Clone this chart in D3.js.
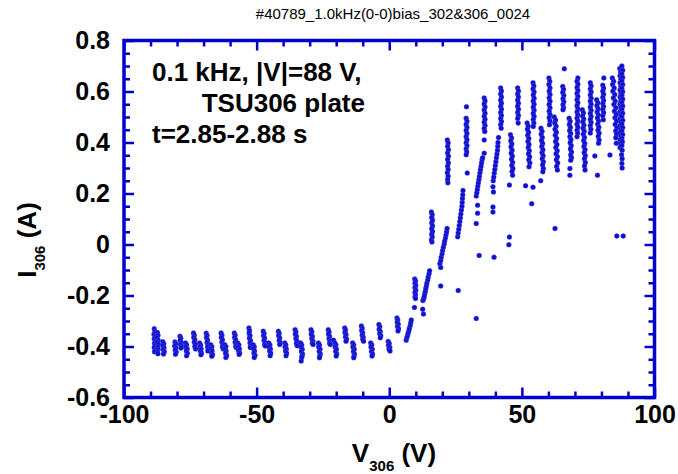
<!DOCTYPE html>
<html>
<head>
<meta charset="utf-8">
<script src="https://cdn.jsdelivr.net/npm/d3@7/dist/d3.min.js"></script>
<style>
body{margin:0;background:#fff}
svg text{font-family:"Liberation Sans",Arial,sans-serif}
</style>
</head>
<body>
<script>
// labels
const titleText = '#40789_1.0kHz(0-0)bias_302&306_0024'
const noteLines = ['0.1 kHz, |V|=88 V,', 'TSU306 plate', 't=2.85-2.88 s']
const xMajor = [-100, -50, 0, 50, 100]
const xMinor = [-90, -80, -70, -60, -40, -30, -20, -10, 10, 20, 30, 40, 60, 70, 80, 90]
const yMajor = [-0.6, -0.4, -0.2, 0, 0.2, 0.4, 0.6, 0.8]
const yMinor = [-0.55, -0.5, -0.45, -0.35, -0.3, -0.25, -0.15, -0.1, -0.05, 0.05, 0.1, 0.15, 0.25, 0.3, 0.35, 0.45, 0.5, 0.55, 0.65, 0.7, 0.75]

// [V306, I306]
// negative bias: current saturates around -0.4 A
const floorPts = [
  [-88.6,-.330],[-88.4,-.342],[-88.7,-.352],[-88.3,-.361],[-88.6,-.370],[-88.2,-.378],[-88.5,-.387],[-88.3,-.395],[-88.6,-.404],[-88.2,-.413],[-88.5,-.421],
  [-87.4,-.345],[-87.2,-.356],[-87.5,-.366],[-87.1,-.375],[-87.4,-.384],[-87.0,-.393],[-87.3,-.402],[-87.1,-.411],[-87.4,-.420],[-87.2,-.428],
  [-85.4,-.381],[-85.0,-.389],[-85.3,-.397],[-84.9,-.405],[-85.2,-.413],[-84.8,-.421],[-85.1,-.429],
  [-80.8,-.382],[-80.5,-.390],[-80.9,-.398],[-80.4,-.406],[-80.7,-.414],[-80.3,-.422],[-80.6,-.430],
  [-78.9,-.360],[-78.6,-.368],[-78.8,-.376],[-78.4,-.384],[-78.7,-.392],[-78.3,-.400],[-78.5,-.406],
  [-76.8,-.386],[-76.4,-.394],[-76.7,-.402],[-76.2,-.410],[-76.5,-.418],[-76.1,-.426],[-76.4,-.436],
  [-73.8,-.347],[-73.5,-.356],[-73.7,-.365],[-73.3,-.374],[-73.5,-.383],[-73.1,-.392],[-73.3,-.401],[-73.0,-.410],
  [-71.5,-.386],[-71.1,-.394],[-71.4,-.402],[-70.9,-.410],[-71.2,-.418],[-70.8,-.425],[-71.0,-.432],
  [-69.0,-.348],[-68.7,-.357],[-68.9,-.366],[-68.5,-.375],[-68.7,-.384],[-68.3,-.393],[-68.5,-.402],[-68.2,-.411],[-68.4,-.418],
  [-67.3,-.393],[-66.9,-.401],[-67.2,-.409],[-66.8,-.417],[-67.0,-.425],[-66.6,-.432],[-66.9,-.438],
  [-63.4,-.347],[-63.1,-.356],[-63.3,-.365],[-62.9,-.374],[-63.1,-.383],[-62.7,-.392],[-62.9,-.401],[-62.6,-.410],
  [-62.0,-.393],[-61.6,-.401],[-61.9,-.409],[-61.5,-.418],[-61.7,-.426],[-61.3,-.435],[-61.6,-.443],
  [-58.4,-.347],[-58.1,-.356],[-58.3,-.365],[-57.9,-.374],[-58.1,-.383],[-57.7,-.392],[-57.9,-.400],[-57.6,-.405],
  [-57.1,-.386],[-56.7,-.394],[-57.0,-.402],[-56.5,-.410],[-56.8,-.418],[-56.4,-.425],[-56.6,-.431],
  [-52.9,-.327],[-52.7,-.338],[-52.8,-.348],[-52.5,-.358],[-52.7,-.368],[-52.3,-.377],[-52.5,-.386],[-52.2,-.395],[-52.4,-.404],
  [-51.3,-.393],[-50.9,-.401],[-51.2,-.409],[-50.8,-.418],[-51.0,-.426],[-50.6,-.435],[-50.9,-.443],
  [-47.5,-.340],[-47.2,-.349],[-47.4,-.358],[-47.0,-.367],[-47.2,-.376],[-46.8,-.385],[-47.0,-.393],[-46.7,-.398],
  [-45.4,-.386],[-45.0,-.394],[-45.3,-.402],[-44.8,-.410],[-45.1,-.418],[-44.7,-.426],[-44.9,-.436],
  [-41.8,-.340],[-41.5,-.349],[-41.7,-.358],[-41.3,-.367],[-41.5,-.376],[-41.1,-.385],[-41.3,-.392],
  [-39.4,-.386],[-39.0,-.394],[-39.3,-.402],[-38.8,-.410],[-39.1,-.418],[-38.7,-.426],[-38.9,-.436],
  [-35.5,-.334],[-35.2,-.343],[-35.4,-.352],[-35.0,-.361],[-35.2,-.370],[-34.8,-.379],[-35.0,-.388],[-34.7,-.397],
  [-33.4,-.386],[-33.0,-.394],[-33.3,-.402],[-32.8,-.411],[-33.1,-.420],[-32.7,-.429],[-32.9,-.437],[-33.0,-.443],[-33.2,-.457],
  [-29.5,-.334],[-29.2,-.343],[-29.4,-.352],[-29.0,-.361],[-29.2,-.370],[-28.8,-.379],[-29.0,-.387],[-28.7,-.392],
  [-26.7,-.386],[-26.3,-.394],[-26.6,-.402],[-26.1,-.411],[-26.4,-.420],[-26.0,-.429],[-26.2,-.437],[-26.3,-.444],
  [-23.0,-.334],[-22.7,-.343],[-22.9,-.352],[-22.5,-.361],[-22.7,-.370],[-22.3,-.379],[-22.5,-.387],[-22.2,-.392],
  [-21.0,-.375],[-20.5,-.386],[-20.1,-.394],[-20.4,-.402],[-19.9,-.411],[-20.2,-.420],[-19.8,-.429],[-20.0,-.437],
  [-16.8,-.327],[-16.5,-.336],[-16.7,-.345],[-16.3,-.354],[-16.5,-.363],[-16.1,-.371],[-16.3,-.379],
  [-13.8,-.386],[-13.4,-.394],[-13.7,-.402],[-13.2,-.411],[-13.5,-.420],[-13.1,-.429],[-13.3,-.437],[-13.4,-.444],
  [-10.5,-.320],[-10.2,-.329],[-10.4,-.338],[-10.0,-.347],[-10.2,-.356],[-9.8,-.364],[-10.0,-.372],[-9.7,-.379],
  [-7.0,-.386],[-6.6,-.394],[-6.9,-.402],[-6.4,-.411],[-6.7,-.420],[-6.3,-.429],[-6.5,-.437],
  [-3.9,-.314],[-3.6,-.323],[-3.8,-.332],[-3.4,-.341],[-3.6,-.350],[-3.2,-.358],[-3.4,-.366],
  [-0.4,-.380],[0.0,-.388],[-0.3,-.396],[0.2,-.404],[-0.1,-.411],[0.3,-.418]
]

// transition region 0..30 V
const risePts = [
  [2.9,-.288],[3.2,-.296],[3.0,-.305],[3.4,-.313],[3.1,-.322],[3.5,-.330],[3.3,-.339],
  [6.4,-.375],[6.6,-.366],[6.9,-.357],[7.1,-.348],[7.4,-.338],[7.6,-.328],[7.9,-.318],[8.1,-.307],[8.3,-.296],[9.5,-.247],
  [9.6,-.135],[9.9,-.143],[9.7,-.152],[10.0,-.161],[9.7,-.170],[10.0,-.179],[9.7,-.188],[9.9,-.197],[9.7,-.206],[9.9,-.212],
  [12.6,-.254],[12.9,-.273],[12.7,-.220],[13.0,-.212],[13.2,-.203],[13.4,-.193],[13.6,-.183],[13.8,-.172],[14.0,-.162],[14.2,-.151],[14.5,-.139],[14.7,-.127],[15.0,-.115],[15.2,-.103],
  [15.9,.127],[16.2,.117],[16.0,.106],[16.3,.095],[16.0,.084],[16.3,.073],[16.0,.062],[16.3,.051],[16.0,.040],[16.2,.029],[15.9,.018],[16.1,.010],
  [19.1,-.075],[19.4,-.063],[19.6,-.050],[19.9,-.037],[20.1,-.024],[20.4,-.011],[20.7,.002],[20.9,.014],[21.2,.026],[21.4,.038],[21.6,.050],[21.8,.063],[19.4,-.090],[19.4,-.163],
  [21.9,.410],[22.2,.398],[22.0,.385],[22.3,.372],[22.0,.359],[22.3,.346],[22.0,.333],[22.3,.320],[22.0,.307],[22.2,.294],[21.9,.281],[22.2,.268],[22.0,.255],[22.1,.242],
  [25.8,.030],[26.0,.045],[26.2,.060],[26.4,.075],[26.6,.090],[26.8,.105],[27.0,.120],[27.2,.135],[27.4,.150],[27.5,.165],[27.6,.180],[27.7,.195],[27.8,.212],[26.0,-.180],[29.4,.280],
  [29.1,.540],[29.0,.495],[29.3,.483],[29.0,.471],[29.3,.459],[29.0,.447],[29.3,.435],[29.0,.423],[29.3,.411],[29.0,.399],[29.3,.387],[29.0,.375],[29.2,.363],[29.0,.352]
]

// electron side, 30..88 V
const upperPts = [
  [32.8,.190],[33.0,.203],[33.2,.216],[33.4,.229],[33.6,.242],[33.8,.255],[34.0,.268],[34.2,.281],[34.4,.294],[34.6,.307],[34.8,.320],[35.0,.332],[35.2,.340],[33.3,.154],[33.3,.123],[32.8,.082],[33.9,-.043],[32.8,-.290],
  [35.8,.575],[36.1,.563],[35.8,.551],[36.1,.539],[35.8,.527],[36.1,.515],[35.8,.503],[36.1,.491],[35.8,.479],[36.1,.467],[35.8,.455],[36.0,.443],[35.8,.410],[35.8,.358],
  [39.2,.250],[39.4,.265],[39.6,.280],[39.8,.295],[40.0,.310],[40.2,.325],[40.4,.340],[40.6,.355],[40.8,.370],[40.9,.385],[41.0,.400],[41.2,.420],[39.1,.226],[39.3,.206],[39.1,.147],[39.1,.127],[39.5,-.050],
  [42.0,.614],[42.3,.602],[42.0,.590],[42.3,.578],[42.0,.566],[42.3,.554],[42.0,.542],[42.3,.530],[42.0,.518],[42.3,.506],[42.0,.494],[42.3,.482],[42.0,.470],[42.2,.456],
  [45.7,.430],[46.1,.418],[45.8,.406],[46.2,.394],[45.9,.382],[46.3,.370],[46.0,.358],[46.4,.346],[46.1,.334],[46.5,.322],[46.2,.310],[46.6,.298],[46.3,.286],[46.5,.272],[45.3,.233],[45.3,.029],[45.1,-.001],
  [48.4,.614],[48.7,.602],[48.4,.590],[48.7,.578],[48.4,.566],[48.7,.554],[48.4,.542],[48.7,.530],[48.4,.518],[48.7,.506],[48.4,.494],[48.6,.476],
  [52.0,.476],[52.4,.464],[52.1,.452],[52.5,.440],[52.2,.428],[52.6,.416],[52.3,.404],[52.7,.392],[52.4,.380],[52.8,.368],[52.5,.356],[52.9,.344],[52.6,.332],[53.0,.320],[52.7,.305],[51.4,.230],[54.2,.225],[53.7,.160],
  [54.2,.634],[54.5,.622],[54.2,.610],[54.6,.598],[54.3,.586],[54.6,.574],[54.3,.562],[54.6,.550],[54.3,.538],[54.6,.526],[54.3,.514],[54.6,.502],[54.3,.490],[54.5,.476],[54.3,.463],
  [57.2,.456],[57.6,.444],[57.3,.432],[57.7,.420],[57.4,.408],[57.8,.396],[57.5,.384],[57.9,.372],[57.6,.360],[58.0,.348],[57.7,.336],[58.1,.324],[57.8,.312],[58.1,.298],[57.9,.285],[57.1,.250],
  [60.2,.653],[60.5,.640],[60.2,.627],[60.6,.614],[60.3,.601],[60.6,.588],[60.3,.575],[60.6,.562],[60.3,.549],[60.6,.536],[60.3,.523],[60.6,.510],[60.3,.497],[60.6,.484],[60.4,.470],
  [62.2,.500],[62.7,.488],[62.4,.476],[62.9,.464],[62.5,.452],[63.0,.440],[62.6,.428],[63.1,.416],[62.7,.404],[63.2,.392],[62.8,.380],[63.3,.368],[62.9,.356],[63.4,.344],[63.0,.332],[63.5,.320],[63.1,.306],[63.4,.292],[62.5,.063],
  [66.0,.689],[65.4,.620],[65.7,.608],[65.4,.596],[65.8,.584],[65.5,.572],[65.8,.560],[65.5,.548],[65.7,.536],[65.5,.528],
  [67.8,.495],[68.2,.483],[67.9,.471],[68.3,.459],[68.0,.447],[68.4,.435],[68.1,.423],[68.5,.411],[68.2,.399],[68.6,.387],[68.3,.375],[68.7,.363],[68.4,.351],[68.7,.340],[68.4,.330],[68.1,.298],[68.1,.272],
  [71.1,.653],[70.8,.640],[71.1,.628],[70.8,.616],[71.1,.604],[70.8,.592],[71.1,.580],[70.8,.568],[71.1,.556],[70.8,.544],[71.1,.532],[70.8,.520],[71.1,.508],[70.8,.496],[71.1,.484],[70.8,.472],[71.1,.460],[70.8,.448],[71.0,.436],[70.8,.423],
  [72.8,.528],[73.2,.516],[72.9,.504],[73.3,.492],[73.0,.480],[73.4,.468],[73.1,.456],[73.5,.444],[73.2,.432],[73.6,.420],[73.3,.408],[73.7,.396],[73.4,.384],[73.8,.372],[73.5,.360],[73.9,.348],[73.6,.336],[73.9,.322],[73.6,.308],[73.8,.292],
  [75.8,.634],[76.1,.622],[75.8,.610],[76.1,.598],[75.8,.586],[76.1,.574],[75.8,.562],[76.1,.550],[75.8,.538],[76.1,.526],[75.8,.514],[76.1,.502],[75.8,.490],[76.1,.478],[75.8,.466],[76.0,.452],[75.8,.437],
  [78.2,.568],[78.6,.556],[78.3,.544],[78.7,.532],[78.4,.520],[78.8,.508],[78.5,.496],[78.9,.484],[78.6,.472],[79.0,.460],[78.7,.448],[79.1,.436],[78.8,.424],[79.1,.410],[78.9,.397],[77.5,.347],[78.5,.272],
  [80.9,.653],[80.5,.625],[80.8,.613],[80.5,.601],[80.8,.589],[80.5,.577],[80.8,.565],[80.5,.553],[80.8,.541],[80.5,.529],[80.8,.517],[80.5,.505],[80.7,.489],
  [84.1,.653],[84.6,.640],[84.2,.627],[84.8,.614],[84.3,.601],[85.0,.588],[84.5,.575],[85.2,.562],[84.7,.549],[85.4,.536],[84.9,.523],[85.6,.510],[85.1,.497],[85.7,.484],[85.2,.471],[85.8,.458],[85.4,.445],[85.7,.432],[85.4,.419],[85.6,.397],[83.2,.351],
  [86.9,.690],[87.2,.676],[87.0,.662],[87.3,.648],[87.0,.634],[87.3,.620],[87.0,.606],[87.3,.592],[87.0,.578],[87.3,.564],[87.0,.550],[87.3,.536],[87.0,.522],[87.3,.508],[87.0,.494],[87.3,.480],[87.0,.466],[87.3,.452],[87.0,.438],[87.3,.424],[87.0,.410],[87.2,.396],[87.0,.380],
  [87.7,.700],[88.0,.683],[87.7,.669],[88.0,.655],[87.7,.641],[88.0,.627],[87.7,.613],[88.0,.599],[87.7,.585],[88.0,.571],[87.7,.557],[88.0,.543],[87.7,.529],[88.0,.515],[87.7,.501],[88.0,.487],[87.7,.473],[88.0,.459],[87.7,.445],[88.0,.431],[87.7,.417],[87.9,.403],[87.7,.388],[87.8,.370],[87.6,.352],[87.8,.336],[87.7,.318],[87.8,.300],
  [85.8,.033],[88.2,.033]
]

const width = 678, height = 474
const padding = {left: 124, right: 23.5, top: 40.5, bottom: 76.5}
const blue = '#0000cc'
const dotColor = '#0f0fcc'

var svg = d3.select('body').append('svg').attr('width', width).attr('height', height)

var xScale = d3.scaleLinear()
  .domain([-100, 100])
  .range([padding.left, width - padding.right])
var yScale = d3.scaleLinear()
  .domain([-0.6, 0.8])
  .range([height - padding.bottom, padding.top])

const x0 = padding.left, x1 = width - padding.right
const y0 = height - padding.bottom, y1 = padding.top

// plain hyphen for negatives, like the original plot
const fmtX = d => String(d)
const fmtY = d => d === 0 ? '0' : d.toFixed(1)

// title
svg.append('text')
  .attr('x', 393).attr('y', 19)
  .attr('text-anchor', 'middle')
  .attr('font-size', 15)
  .text(titleText)

// inward ticks on all four sides
function tickAxis(axis, transform, len) {
  const g = svg.append('g').attr('transform', transform).call(axis.tickSize(-len).tickFormat(''))
  g.select('.domain').remove()
  g.selectAll('line').attr('stroke', blue).attr('stroke-width', 2.5)
  return g
}
tickAxis(d3.axisBottom(xScale).tickValues(xMinor), 'translate(0,' + y0 + ')', 6)
tickAxis(d3.axisBottom(xScale).tickValues(xMajor), 'translate(0,' + y0 + ')', 10)
tickAxis(d3.axisTop(xScale).tickValues(xMinor), 'translate(0,' + y1 + ')', 6)
tickAxis(d3.axisTop(xScale).tickValues(xMajor), 'translate(0,' + y1 + ')', 10)
tickAxis(d3.axisLeft(yScale).tickValues(yMinor), 'translate(' + x0 + ',0)', 6)
tickAxis(d3.axisLeft(yScale).tickValues(yMajor), 'translate(' + x0 + ',0)', 10)
tickAxis(d3.axisRight(yScale).tickValues(yMinor), 'translate(' + x1 + ',0)', 6)
tickAxis(d3.axisRight(yScale).tickValues(yMajor), 'translate(' + x1 + ',0)', 10)

// tick labels
var xLab = svg.append('g')
  .attr('transform', 'translate(0,' + y0 + ')')
  .call(d3.axisBottom(xScale).tickValues(xMajor).tickSize(0).tickPadding(8).tickFormat(fmtX))
xLab.select('.domain').remove()
xLab.selectAll('text').attr('font-size', 25).attr('font-weight', 'bold').attr('fill', '#000')
  .attr('font-family', '"Liberation Sans",Arial,sans-serif')

var yLab = svg.append('g')
  .attr('transform', 'translate(' + x0 + ',0)')
  .call(d3.axisLeft(yScale).tickValues(yMajor).tickSize(0).tickPadding(14).tickFormat(fmtY))
yLab.select('.domain').remove()
yLab.selectAll('text').attr('font-size', 25).attr('font-weight', 'bold').attr('fill', '#000')
  .attr('font-family', '"Liberation Sans",Arial,sans-serif')

// frame
svg.append('rect')
  .attr('x', x0).attr('y', y1)
  .attr('width', x1 - x0).attr('height', y0 - y1)
  .attr('fill', 'none').attr('stroke', blue).attr('stroke-width', 3.5)

// points
const allPts = floorPts.concat(risePts, upperPts)
svg.append('g')
  .selectAll('circle')
  .data(allPts)
  .enter()
  .append('circle')
  .attr('cx', d => xScale(d[0]))
  .attr('cy', d => yScale(d[1]))
  .attr('r', 2.5)
  .attr('fill', dotColor)
  .attr('stroke', '#6a6ae6')
  .attr('stroke-width', 0.6)
  .attr('stroke-opacity', 0.5)

// annotation
var note = svg.append('g').attr('font-size', 26).attr('font-weight', 'bold')
note.append('text').attr('x', 152).attr('y', 81).text(noteLines[0])
note.append('text').attr('x', 365).attr('y', 112).attr('text-anchor', 'end').text(noteLines[1])
note.append('text').attr('x', 152).attr('y', 143).text(noteLines[2])

// axis titles
var xt = svg.append('text')
  .attr('x', 394).attr('y', 462)
  .attr('text-anchor', 'middle')
  .attr('font-size', 26).attr('font-weight', 'bold')
xt.append('tspan').text('V')
xt.append('tspan').attr('font-size', 15).attr('dy', 9).text('306')
xt.append('tspan').attr('dy', -9).text(' (V)')

var yt = svg.append('text')
  .attr('transform', 'translate(36,240) rotate(-90)')
  .attr('text-anchor', 'middle')
  .attr('font-size', 26).attr('font-weight', 'bold')
yt.append('tspan').text('I')
yt.append('tspan').attr('font-size', 15).attr('dy', 9).text('306')
yt.append('tspan').attr('dy', -9).text(' (A)')
</script>
</body>
</html>
